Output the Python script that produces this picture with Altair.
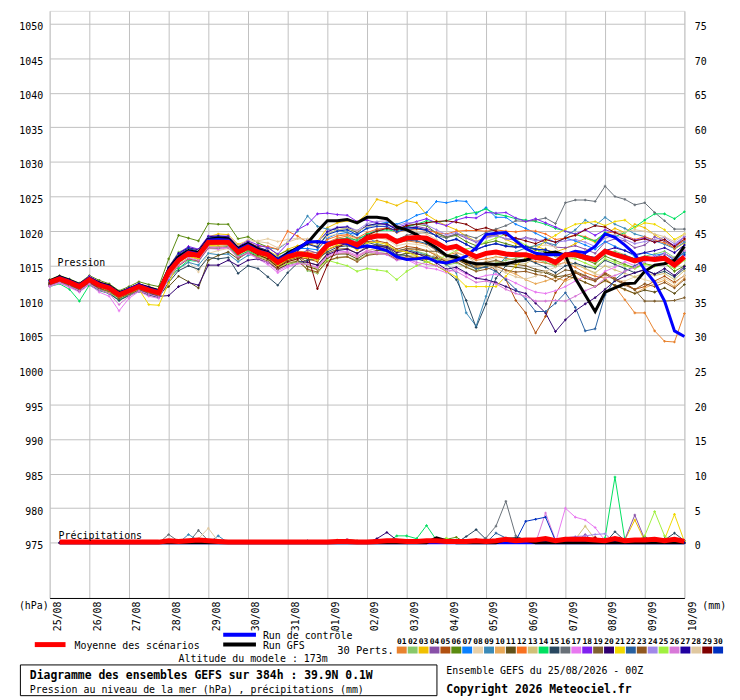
import altair as alt
import pandas as pd

FONT = "DejaVu Sans Mono"

DATES = ["25/08", "26/08", "27/08", "28/08", "29/08", "30/08", "31/08", "01/09",
         "02/09", "03/09", "04/09", "05/09", "06/09", "07/09", "08/09", "09/09", "10/09"]
STEP_H = 6
MEMBERS = ["%02d" % i for i in range(1, 31)]
COLORS = ["#E8822E", "#88C86A", "#F0C000", "#8850A8", "#B05010", "#5A8A10", "#0A80FF", "#E8D0A8",
          "#3A8AB8", "#E8A858", "#605018", "#F87020", "#D0C078", "#00E060", "#284860", "#687078",
          "#E878F0", "#8020F0", "#806030", "#300070", "#F0D800", "#2860A0", "#905820", "#A088E8",
          "#A0F040", "#D878D8", "#2000A0", "#E0C8A0", "#800000", "#0030C0"]

# Sea-level pressure (hPa), every 6 h from 0 to 384 h
P01 = [1012.2, 1012.9, 1012.3, 1011.7, 1012.8, 1012.0, 1011.5, 1010.4, 1011.2, 1011.8, 1011.3, 1010.9, 1013.5,
       1015.4, 1016.5, 1016.3, 1018.0, 1018.2, 1018.0, 1016.8, 1017.4, 1016.9, 1016.8, 1015.9, 1016.6, 1017.1,
       1017.0, 1016.9, 1018.4, 1019.0, 1019.3, 1018.6, 1019.5, 1019.6, 1019.2, 1018.3, 1018.6, 1018.4, 1018.1,
       1017.2, 1016.5, 1016.9, 1016.4, 1015.8, 1016.0, 1016.3, 1016.1, 1015.8, 1015.9, 1015.6, 1015.4, 1015.1,
       1015.5, 1014.8, 1014.0, 1013.5, 1013.2, 1012.0, 1010.1, 1008.2, 1008.2, 1005.6, 1004.1, 1004.0, 1008.1]
P02 = [1012.3, 1012.7, 1012.1, 1011.4, 1012.5, 1011.6, 1011.2, 1010.1, 1010.8, 1011.5, 1011.0, 1010.7, 1014.8,
       1017.0, 1017.6, 1017.2, 1019.0, 1019.2, 1018.8, 1017.3, 1017.9, 1016.8, 1016.2, 1015.0, 1015.6, 1016.0,
       1014.3, 1013.9, 1015.7, 1016.1, 1016.3, 1015.8, 1016.6, 1016.9, 1017.1, 1016.3, 1016.9, 1017.1, 1016.7,
       1015.9, 1015.1, 1015.4, 1014.8, 1014.3, 1015.0, 1015.4, 1015.8, 1016.1, 1016.4, 1016.0, 1015.5, 1014.9,
       1016.4, 1016.7, 1016.2, 1015.6, 1016.8, 1017.1, 1016.6, 1016.0, 1016.4, 1016.7, 1017.1, 1016.2, 1016.8]
P03 = [1012.9, 1013.5, 1013.0, 1012.4, 1013.4, 1012.7, 1012.3, 1011.2, 1011.8, 1012.4, 1012.0, 1011.6, 1014.7,
       1016.5, 1017.5, 1017.3, 1019.2, 1019.6, 1019.5, 1018.1, 1018.6, 1017.6, 1017.2, 1016.4, 1017.4, 1017.9,
       1018.0, 1018.5, 1020.5, 1021.2, 1021.5, 1021.3, 1022.5, 1024.6, 1024.2, 1023.7, 1024.4, 1024.1, 1022.4,
       1021.5, 1020.8, 1020.2, 1019.3, 1018.5, 1019.2, 1019.5, 1018.8, 1018.2, 1017.6, 1017.9, 1017.3, 1017.0,
       1017.5, 1018.2, 1019.0, 1018.4, 1019.6, 1020.4, 1019.8, 1021.0, 1020.5, 1019.5, 1018.7, 1017.4, 1018.3]
P04 = [1012.8, 1013.2, 1012.8, 1012.2, 1013.2, 1012.5, 1012.1, 1011.1, 1011.6, 1012.2, 1011.8, 1011.4, 1014.5,
       1016.4, 1017.2, 1016.9, 1018.8, 1018.6, 1018.7, 1017.3, 1018.0, 1017.2, 1016.5, 1015.3, 1016.0, 1016.4,
       1017.3, 1016.8, 1018.3, 1018.8, 1019.0, 1018.4, 1019.5, 1020.2, 1020.5, 1019.8, 1020.4, 1020.7, 1020.4,
       1019.8, 1019.2, 1019.6, 1019.0, 1018.4, 1019.1, 1019.4, 1018.9, 1018.7, 1019.1, 1018.8, 1018.4, 1017.7,
       1017.6, 1017.9, 1017.4, 1016.8, 1018.4, 1018.9, 1018.6, 1017.6, 1018.0, 1019.2, 1018.5, 1017.8, 1018.6]
P05 = [1012.4, 1012.9, 1012.5, 1011.9, 1012.7, 1011.9, 1011.5, 1010.6, 1011.1, 1011.7, 1011.4, 1011.0, 1013.8,
       1015.5, 1016.4, 1016.0, 1017.9, 1017.8, 1017.9, 1016.6, 1017.3, 1016.5, 1016.0, 1014.9, 1015.8, 1016.2,
       1016.0, 1015.6, 1017.3, 1017.9, 1018.1, 1017.4, 1018.5, 1018.6, 1018.3, 1017.4, 1017.8, 1017.6, 1017.2,
       1016.5, 1015.6, 1016.0, 1015.4, 1014.8, 1015.5, 1014.3, 1013.0, 1010.0, 1008.2, 1005.3, 1007.7, 1011.1,
       1013.0, 1014.0, 1013.5, 1012.8, 1014.0, 1013.2, 1012.5, 1011.6, 1012.0, 1012.8, 1013.5, 1012.6, 1013.6]
P06 = [1013.0, 1013.6, 1013.1, 1012.5, 1013.6, 1012.9, 1012.4, 1011.4, 1012.0, 1012.7, 1012.3, 1012.0, 1016.0,
       1019.4, 1019.0, 1018.6, 1021.1, 1021.0, 1021.0, 1018.9, 1019.2, 1018.3, 1017.7, 1016.6, 1017.2, 1017.5,
       1018.2, 1017.8, 1019.6, 1020.2, 1020.4, 1019.8, 1020.8, 1021.0, 1021.1, 1020.3, 1020.8, 1021.0, 1020.8,
       1019.7, 1019.1, 1019.4, 1018.5, 1017.9, 1018.3, 1018.6, 1018.2, 1017.8, 1017.7, 1017.3, 1017.0, 1016.4,
       1016.6, 1016.3, 1015.9, 1015.3, 1016.4, 1015.8, 1015.2, 1014.7, 1015.3, 1015.0, 1015.4, 1014.2, 1015.0]
P07 = [1012.7, 1013.3, 1012.8, 1012.1, 1013.1, 1012.3, 1011.9, 1010.9, 1011.5, 1012.1, 1011.6, 1011.2, 1014.4,
       1016.2, 1017.1, 1016.8, 1018.6, 1018.5, 1018.5, 1017.2, 1017.9, 1017.4, 1017.1, 1016.2, 1017.0, 1017.5,
       1017.5, 1017.3, 1019.0, 1019.6, 1019.8, 1019.5, 1020.5, 1021.0, 1021.3, 1021.0, 1021.5, 1022.3, 1022.7,
       1024.3, 1024.1, 1024.4, 1024.3, 1022.5, 1023.4, 1022.0, 1022.0, 1021.0, 1020.4, 1019.7, 1019.0, 1018.4,
       1019.0, 1018.6, 1018.0, 1017.4, 1018.5, 1017.8, 1017.2, 1016.4, 1016.9, 1016.5, 1016.8, 1015.8, 1016.9]
P08 = [1012.5, 1013.0, 1012.6, 1012.0, 1012.9, 1012.1, 1011.6, 1010.6, 1011.3, 1011.9, 1011.5, 1011.1, 1013.2,
       1014.5, 1015.6, 1014.1, 1016.8, 1017.2, 1017.5, 1016.8, 1018.3, 1018.6, 1018.9, 1018.5, 1018.8, 1019.0,
       1018.6, 1018.1, 1019.2, 1019.6, 1019.4, 1018.8, 1019.3, 1019.1, 1018.8, 1017.9, 1018.2, 1018.1, 1017.8,
       1016.6, 1015.9, 1016.3, 1015.8, 1015.0, 1015.7, 1016.2, 1016.6, 1017.0, 1017.5, 1017.8, 1018.0, 1017.7,
       1015.8, 1015.2, 1014.6, 1013.8, 1013.5, 1013.0, 1012.8, 1013.4, 1013.0, 1012.6, 1013.2, 1012.4, 1013.6]
P09 = [1012.3, 1012.7, 1012.2, 1011.6, 1012.6, 1011.8, 1011.4, 1010.3, 1011.0, 1011.6, 1011.2, 1010.8, 1013.0,
       1014.6, 1015.5, 1015.1, 1016.8, 1016.6, 1016.7, 1015.6, 1016.5, 1016.8, 1017.6, 1017.4, 1018.4, 1020.0,
       1022.2, 1020.7, 1020.3, 1020.2, 1019.8, 1019.0, 1019.3, 1018.2, 1017.8, 1017.2, 1017.4, 1017.0, 1016.5,
       1016.0, 1015.2, 1014.0, 1008.2, 1006.3, 1010.6, 1014.9, 1016.2, 1017.0, 1017.6, 1017.9, 1018.4, 1018.0,
       1019.2, 1020.2, 1021.6, 1020.8, 1022.0, 1021.0, 1020.4, 1019.6, 1019.2, 1018.6, 1018.1, 1017.5, 1018.4]
P10 = [1012.9, 1013.4, 1012.9, 1012.3, 1013.3, 1012.5, 1012.0, 1011.0, 1011.6, 1012.3, 1011.8, 1011.3, 1014.3,
       1016.0, 1016.9, 1016.7, 1018.5, 1018.7, 1018.8, 1017.4, 1018.0, 1017.1, 1016.3, 1015.2, 1016.1, 1016.5,
       1014.9, 1014.4, 1016.2, 1016.7, 1016.9, 1016.3, 1017.2, 1017.5, 1017.6, 1017.0, 1017.4, 1017.3, 1017.2,
       1016.6, 1015.7, 1016.0, 1015.3, 1014.7, 1015.3, 1015.2, 1014.3, 1013.8, 1013.0, 1012.4, 1012.8, 1013.3,
       1012.8, 1013.4, 1012.6, 1012.0, 1012.8, 1012.2, 1011.5, 1011.0, 1011.8, 1012.4, 1012.9, 1012.0, 1013.2]
P11 = [1012.4, 1012.8, 1012.3, 1011.8, 1012.6, 1011.9, 1011.4, 1010.5, 1011.2, 1011.7, 1011.2, 1010.9, 1012.0,
       1013.5, 1012.7, 1011.8, 1015.8, 1016.5, 1017.0, 1016.0, 1016.9, 1016.4, 1016.0, 1015.0, 1015.8, 1016.3,
       1014.9, 1014.5, 1016.1, 1016.7, 1016.7, 1016.0, 1016.9, 1017.2, 1017.3, 1016.5, 1016.8, 1016.7, 1016.5,
       1016.2, 1015.6, 1015.9, 1015.2, 1014.6, 1014.9, 1015.2, 1015.0, 1014.8, 1014.6, 1014.2, 1014.0, 1013.4,
       1013.6, 1013.2, 1012.6, 1012.0, 1012.9, 1012.2, 1011.6, 1011.0, 1011.5, 1011.2, 1011.8, 1011.0, 1012.3]
P12 = [1012.8, 1013.3, 1012.7, 1012.1, 1013.2, 1012.4, 1012.0, 1011.0, 1011.6, 1012.1, 1011.7, 1011.3, 1014.2,
       1016.0, 1017.0, 1016.8, 1018.7, 1018.8, 1018.7, 1017.5, 1018.3, 1017.8, 1017.8, 1017.4, 1020.0, 1019.3,
       1018.4, 1017.6, 1018.8, 1019.3, 1019.5, 1019.0, 1019.8, 1020.3, 1020.4, 1019.8, 1020.2, 1020.3, 1020.1,
       1019.8, 1019.6, 1020.0, 1020.1, 1020.1, 1020.0, 1020.2, 1020.0, 1019.9, 1020.1, 1020.0, 1019.6, 1018.8,
       1019.0, 1019.5, 1019.2, 1018.6, 1019.7, 1019.9, 1019.4, 1018.8, 1019.2, 1018.7, 1018.3, 1017.6, 1018.8]
P13 = [1012.3, 1012.8, 1012.4, 1011.8, 1012.7, 1011.9, 1011.5, 1010.5, 1011.1, 1011.7, 1011.2, 1010.8, 1013.6,
       1015.2, 1016.2, 1016.0, 1017.8, 1017.8, 1017.9, 1016.5, 1017.2, 1016.4, 1015.9, 1014.7, 1015.4, 1015.8,
       1014.5, 1014.0, 1015.7, 1016.2, 1016.3, 1015.7, 1016.6, 1016.9, 1016.8, 1016.1, 1016.5, 1016.4, 1016.1,
       1016.6, 1015.9, 1016.2, 1015.6, 1014.9, 1015.4, 1015.7, 1015.3, 1015.2, 1015.3, 1016.2, 1017.5, 1016.3,
       1015.8, 1015.2, 1014.6, 1014.0, 1015.0, 1014.4, 1013.9, 1013.4, 1014.0, 1013.6, 1013.9, 1013.0, 1014.3]
P14 = [1012.0, 1012.4, 1011.6, 1009.9, 1012.2, 1011.4, 1011.0, 1010.0, 1010.8, 1011.3, 1010.8, 1010.4, 1013.4,
       1014.6, 1015.8, 1015.6, 1017.6, 1017.5, 1017.8, 1016.4, 1017.1, 1016.5, 1016.2, 1015.3, 1016.1, 1016.6,
       1016.7, 1016.5, 1018.1, 1018.8, 1019.0, 1018.7, 1019.6, 1020.0, 1020.2, 1020.0, 1020.6, 1021.0, 1021.5,
       1021.3, 1021.5, 1022.0, 1022.5, 1022.7, 1023.2, 1022.5, 1022.2, 1021.8, 1021.6, 1021.4, 1021.0, 1020.4,
       1020.0, 1019.6, 1019.0, 1018.6, 1019.8, 1019.2, 1019.8, 1020.6, 1021.6, 1022.5, 1022.5, 1021.8, 1022.8]
P15 = [1012.1, 1012.6, 1012.0, 1011.3, 1012.3, 1011.5, 1011.0, 1010.0, 1010.7, 1011.3, 1010.8, 1010.4, 1012.6,
       1014.3, 1015.0, 1014.5, 1016.2, 1016.0, 1016.2, 1013.9, 1015.0, 1014.6, 1013.4, 1012.2, 1014.0, 1015.4,
       1015.8, 1016.0, 1017.0, 1017.7, 1017.9, 1017.5, 1018.4, 1018.0, 1017.6, 1016.6, 1016.5, 1016.0, 1015.6,
       1015.0, 1014.2, 1013.0, 1010.0, 1006.1, 1009.5, 1013.2, 1015.0, 1015.8, 1016.0, 1015.4, 1014.8, 1014.0,
       1015.0, 1015.4, 1014.9, 1014.6, 1015.8, 1015.2, 1014.6, 1014.0, 1014.5, 1013.8, 1014.2, 1013.4, 1014.6]
P16 = [1012.6, 1013.2, 1012.7, 1012.1, 1013.1, 1012.3, 1011.9, 1010.9, 1011.5, 1012.1, 1011.6, 1011.2, 1014.0,
       1015.7, 1016.7, 1016.4, 1018.2, 1018.3, 1018.3, 1016.9, 1017.6, 1016.9, 1016.4, 1015.3, 1016.1, 1016.5,
       1016.4, 1016.0, 1017.7, 1018.3, 1018.4, 1017.8, 1018.9, 1019.3, 1019.4, 1018.8, 1019.4, 1019.7, 1019.8,
       1019.4, 1019.0, 1019.6, 1019.4, 1019.0, 1019.8, 1020.3, 1020.8, 1021.5, 1021.4, 1021.6, 1021.9, 1021.1,
       1024.1, 1024.5, 1024.5, 1024.3, 1026.5, 1025.0, 1024.6, 1023.8, 1024.1, 1022.7, 1021.5, 1020.3, 1020.3]
P17 = [1012.0, 1012.5, 1011.9, 1011.2, 1012.3, 1011.2, 1010.6, 1008.5, 1010.3, 1011.3, 1010.6, 1010.3, 1013.2,
       1015.0, 1016.0, 1015.6, 1017.5, 1017.4, 1017.6, 1016.2, 1016.8, 1016.0, 1015.2, 1014.0, 1014.8, 1015.3,
       1015.2, 1014.8, 1016.5, 1017.0, 1017.1, 1016.5, 1017.2, 1017.0, 1016.7, 1016.0, 1015.9, 1015.2, 1014.7,
       1014.5, 1014.0, 1014.6, 1013.8, 1013.2, 1013.6, 1013.8, 1013.2, 1012.5, 1011.8, 1011.2, 1011.0, 1011.4,
       1012.0, 1012.8, 1013.5, 1013.0, 1014.2, 1014.8, 1015.6, 1015.0, 1015.9, 1016.4, 1016.0, 1015.2, 1016.4]
P18 = [1012.9, 1013.5, 1013.0, 1012.4, 1013.5, 1012.7, 1012.2, 1011.2, 1011.8, 1012.4, 1012.0, 1011.5, 1014.8,
       1016.8, 1017.8, 1017.4, 1019.3, 1019.3, 1019.3, 1017.9, 1018.6, 1018.0, 1017.6, 1016.7, 1018.2, 1020.2,
       1021.0, 1022.5, 1022.6, 1022.4, 1022.3, 1021.4, 1021.6, 1021.2, 1020.9, 1020.5, 1021.0, 1021.4, 1021.8,
       1021.2, 1020.8, 1021.6, 1022.0, 1021.9, 1022.7, 1022.6, 1022.7, 1021.9, 1021.4, 1021.8, 1021.2, 1020.6,
       1020.0, 1019.6, 1020.2, 1019.4, 1020.2, 1019.8, 1019.2, 1018.7, 1019.0, 1018.4, 1018.8, 1017.9, 1019.2]
P19 = [1012.5, 1013.0, 1012.5, 1011.9, 1012.9, 1012.1, 1011.7, 1010.7, 1011.3, 1011.9, 1011.4, 1011.0, 1013.9,
       1015.6, 1016.6, 1016.3, 1018.1, 1018.1, 1018.2, 1016.7, 1017.4, 1016.7, 1016.3, 1015.2, 1016.0, 1016.4,
       1015.5, 1015.1, 1016.8, 1017.4, 1017.5, 1016.8, 1017.8, 1018.0, 1017.9, 1017.1, 1017.5, 1017.4, 1017.1,
       1017.1, 1016.3, 1016.6, 1015.8, 1015.0, 1015.5, 1015.8, 1015.4, 1015.2, 1015.0, 1014.5, 1014.2, 1013.6,
       1014.4, 1014.2, 1013.6, 1013.0, 1013.8, 1013.0, 1012.4, 1011.5, 1009.9, 1009.9, 1009.9, 1010.0, 1010.4]
P20 = [1012.3, 1012.8, 1012.3, 1011.7, 1012.6, 1011.8, 1011.3, 1010.4, 1011.0, 1011.5, 1011.0, 1010.6, 1010.7,
       1012.0, 1012.6, 1012.2, 1015.1, 1015.1, 1015.8, 1015.0, 1015.8, 1016.0, 1015.5, 1014.5, 1015.2, 1015.6,
       1015.5, 1015.1, 1016.6, 1017.2, 1017.4, 1016.8, 1017.6, 1017.8, 1017.7, 1016.9, 1017.2, 1016.8, 1016.2,
       1015.4, 1014.5, 1014.8, 1014.0, 1013.2, 1013.0, 1012.6, 1012.0, 1011.4, 1011.0, 1009.6, 1008.2, 1005.5,
       1007.2, 1008.5, 1009.5, 1010.4, 1011.6, 1012.8, 1013.5, 1014.0, 1014.4, 1013.8, 1014.6, 1013.6, 1014.9]
P21 = [1012.7, 1013.1, 1012.6, 1012.0, 1013.0, 1012.0, 1011.2, 1010.4, 1010.9, 1011.6, 1009.4, 1009.3, 1012.5,
       1015.5, 1016.4, 1016.0, 1017.9, 1018.0, 1018.2, 1016.8, 1017.4, 1016.6, 1016.2, 1015.0, 1015.9, 1016.3,
       1016.2, 1015.8, 1017.4, 1018.0, 1018.1, 1017.3, 1018.3, 1018.4, 1018.1, 1017.2, 1017.0, 1016.4, 1015.6,
       1015.0, 1014.2, 1013.4, 1012.0, 1012.0, 1012.0, 1012.0, 1013.5, 1015.0, 1016.2, 1017.3, 1018.6, 1019.4,
       1020.3, 1021.0, 1021.2, 1021.4, 1020.8, 1021.4, 1021.6, 1020.5, 1021.2, 1021.0, 1020.2, 1018.8, 1019.6]
P22 = [1012.6, 1013.0, 1012.5, 1011.9, 1012.9, 1012.2, 1011.8, 1010.9, 1011.5, 1012.0, 1011.6, 1011.2, 1014.2,
       1015.9, 1016.9, 1016.6, 1018.5, 1018.5, 1018.6, 1017.2, 1017.8, 1017.1, 1016.7, 1015.6, 1016.4, 1016.8,
       1016.7, 1016.3, 1018.0, 1018.5, 1018.6, 1018.0, 1018.9, 1019.2, 1019.2, 1018.3, 1018.7, 1018.6, 1018.2,
       1017.3, 1016.4, 1016.5, 1015.6, 1014.6, 1014.8, 1014.2, 1013.0, 1011.6, 1010.2, 1008.4, 1008.4, 1009.6,
       1011.1, 1009.0, 1005.6, 1005.9, 1010.8, 1013.0, 1014.2, 1015.0, 1015.8, 1016.2, 1016.8, 1016.0, 1017.0]
P23 = [1012.2, 1012.7, 1012.2, 1011.5, 1012.5, 1011.7, 1011.3, 1010.3, 1010.9, 1011.5, 1011.1, 1010.7, 1013.4,
       1015.0, 1016.0, 1015.7, 1017.6, 1017.6, 1017.7, 1016.2, 1016.9, 1016.2, 1015.7, 1014.5, 1015.3, 1015.7,
       1014.5, 1014.1, 1015.7, 1016.2, 1016.3, 1015.6, 1016.5, 1016.7, 1016.7, 1015.9, 1016.3, 1016.2, 1015.9,
       1016.1, 1015.3, 1015.6, 1014.8, 1014.2, 1014.5, 1014.9, 1014.4, 1014.1, 1014.2, 1013.8, 1013.5, 1012.8,
       1013.6, 1014.0, 1013.2, 1012.8, 1013.8, 1013.0, 1012.2, 1011.6, 1012.4, 1012.0, 1012.6, 1011.8, 1013.0]
P24 = [1012.8, 1013.4, 1012.9, 1012.3, 1013.3, 1012.5, 1012.1, 1011.1, 1011.7, 1012.3, 1011.8, 1011.4, 1014.6,
       1016.6, 1017.4, 1017.1, 1019.0, 1019.1, 1019.0, 1017.6, 1018.2, 1017.5, 1017.0, 1016.0, 1016.8, 1017.3,
       1018.8, 1018.4, 1020.0, 1020.6, 1020.7, 1020.1, 1021.1, 1021.4, 1021.5, 1020.8, 1021.2, 1021.2, 1020.9,
       1020.2, 1019.5, 1019.8, 1019.1, 1018.5, 1019.0, 1019.3, 1018.9, 1018.9, 1019.0, 1018.6, 1018.8, 1018.4,
       1018.6, 1018.8, 1018.4, 1017.8, 1019.0, 1019.4, 1018.8, 1018.2, 1018.5, 1018.8, 1019.1, 1018.2, 1019.2]
P25 = [1012.5, 1012.9, 1012.4, 1011.8, 1012.8, 1012.0, 1011.6, 1010.6, 1011.2, 1011.8, 1011.3, 1010.9, 1014.0,
       1016.0, 1017.0, 1016.6, 1018.5, 1018.5, 1018.4, 1016.9, 1017.4, 1016.5, 1015.9, 1014.8, 1015.3, 1015.5,
       1015.2, 1014.6, 1015.8, 1015.4, 1015.0, 1014.2, 1014.6, 1014.4, 1014.2, 1013.0, 1014.2, 1015.0, 1015.6,
       1015.8, 1016.5, 1017.2, 1017.4, 1017.8, 1018.5, 1019.0, 1019.6, 1018.8, 1018.0, 1017.4, 1016.4, 1015.8,
       1016.2, 1016.0, 1015.4, 1014.8, 1016.0, 1015.5, 1015.0, 1014.6, 1015.2, 1014.9, 1015.3, 1014.6, 1015.8]
P26 = [1012.1, 1012.6, 1012.0, 1011.4, 1012.4, 1011.5, 1011.0, 1009.4, 1010.6, 1011.4, 1010.9, 1010.5, 1013.3,
       1015.1, 1016.1, 1015.8, 1017.7, 1017.6, 1017.7, 1016.3, 1016.9, 1016.1, 1015.5, 1014.3, 1015.0, 1015.4,
       1015.2, 1014.7, 1016.3, 1016.8, 1016.9, 1016.3, 1017.0, 1016.8, 1016.6, 1015.8, 1016.0, 1015.5, 1015.2,
       1015.0, 1014.4, 1014.2, 1013.4, 1012.6, 1012.8, 1012.4, 1011.6, 1011.0, 1010.6, 1009.9, 1009.9, 1010.0,
       1009.9, 1010.6, 1011.4, 1012.0, 1013.2, 1013.6, 1014.2, 1014.8, 1015.6, 1016.0, 1016.8, 1016.0, 1017.2]
P27 = [1012.9, 1013.5, 1013.0, 1012.3, 1013.3, 1012.6, 1012.2, 1011.2, 1011.8, 1012.4, 1011.9, 1011.5, 1014.8,
       1016.8, 1017.6, 1017.3, 1019.2, 1019.3, 1019.2, 1017.8, 1018.4, 1017.7, 1017.2, 1016.1, 1016.9, 1017.4,
       1018.7, 1018.3, 1019.9, 1020.5, 1020.6, 1019.9, 1020.8, 1021.1, 1021.0, 1020.2, 1020.6, 1020.5, 1020.2,
       1019.3, 1018.5, 1018.8, 1018.1, 1017.3, 1017.9, 1018.2, 1017.8, 1017.7, 1017.8, 1017.4, 1017.3, 1016.8,
       1016.4, 1016.8, 1016.5, 1016.0, 1017.2, 1017.6, 1017.2, 1016.6, 1016.9, 1017.2, 1017.6, 1016.9, 1018.0]
P28 = [1012.7, 1013.2, 1012.7, 1012.1, 1013.1, 1012.3, 1011.9, 1010.9, 1011.5, 1012.1, 1011.6, 1011.2, 1014.0,
       1016.3, 1017.3, 1017.2, 1019.0, 1018.9, 1019.0, 1017.9, 1018.8, 1018.5, 1018.3, 1017.6, 1018.4, 1018.9,
       1018.9, 1018.5, 1019.6, 1020.2, 1020.4, 1020.0, 1020.6, 1020.8, 1020.6, 1019.9, 1020.2, 1020.0, 1019.6,
       1018.8, 1017.6, 1017.0, 1016.4, 1015.4, 1015.2, 1014.6, 1014.0, 1013.4, 1013.1, 1013.5, 1014.2, 1014.8,
       1015.6, 1016.4, 1017.2, 1017.8, 1019.2, 1019.6, 1019.9, 1020.2, 1020.0, 1019.6, 1019.2, 1018.5, 1019.5]
P29 = [1012.5, 1013.1, 1012.6, 1012.0, 1013.0, 1012.2, 1011.8, 1010.8, 1011.4, 1012.0, 1011.5, 1011.1, 1014.1,
       1015.8, 1016.8, 1016.4, 1018.3, 1018.3, 1018.2, 1016.8, 1017.4, 1016.6, 1016.0, 1014.8, 1015.6, 1016.0,
       1016.6, 1011.7, 1015.1, 1017.6, 1018.4, 1018.3, 1019.4, 1020.0, 1020.4, 1020.2, 1020.8, 1021.0, 1021.2,
       1021.4, 1021.5, 1021.3, 1021.0, 1020.2, 1020.5, 1020.0, 1019.4, 1019.0, 1018.6, 1018.2, 1018.8, 1018.4,
       1019.0, 1019.4, 1020.2, 1020.8, 1020.6, 1019.8, 1019.2, 1018.6, 1018.9, 1018.4, 1018.8, 1017.8, 1018.9]
P30 = [1012.8, 1013.3, 1012.8, 1012.2, 1013.2, 1012.4, 1012.0, 1011.0, 1011.6, 1012.2, 1011.7, 1011.3, 1014.6,
       1016.6, 1017.5, 1017.1, 1019.0, 1019.2, 1019.0, 1017.6, 1018.3, 1017.5, 1017.0, 1015.9, 1016.7, 1017.2,
       1018.1, 1017.7, 1019.5, 1020.0, 1020.2, 1019.5, 1020.4, 1020.7, 1020.7, 1019.9, 1020.3, 1020.4, 1020.1,
       1019.3, 1018.5, 1018.9, 1018.1, 1017.4, 1017.9, 1018.2, 1017.9, 1017.7, 1017.8, 1017.4, 1017.3, 1016.8,
       1016.8, 1016.9, 1016.5, 1016.2, 1017.3, 1016.8, 1016.5, 1016.0, 1016.3, 1016.1, 1016.4, 1015.6, 1016.6]
PERTS = [P01, P02, P03, P04, P05, P06, P07, P08, P09, P10, P11, P12, P13, P14, P15,
         P16, P17, P18, P19, P20, P21, P22, P23, P24, P25, P26, P27, P28, P29, P30]

CTRL = [1012.6, 1013.3, 1012.8, 1012.2, 1013.2, 1012.4, 1012.0, 1011.0, 1011.6, 1012.2, 1011.7, 1011.3, 1014.3,
        1016.0, 1017.0, 1016.7, 1018.7, 1018.8, 1018.7, 1017.3, 1018.0, 1017.2, 1016.8, 1015.8, 1016.6, 1017.5,
        1018.4, 1018.5, 1018.3, 1018.4, 1018.2, 1017.6, 1017.9, 1017.6, 1017.2, 1016.3, 1015.9, 1016.0, 1016.2,
        1015.6, 1015.4, 1015.8, 1016.4, 1017.6, 1019.5, 1019.7, 1019.8, 1018.6, 1017.5, 1016.8, 1016.6, 1016.6,
        1016.6, 1017.1, 1016.9, 1017.8, 1019.6, 1019.1, 1018.0, 1016.7, 1014.4, 1012.6, 1009.9, 1005.6, 1004.8]
GFS = [1012.8, 1013.4, 1012.9, 1012.3, 1013.2, 1012.5, 1012.1, 1011.1, 1011.6, 1012.2, 1011.8, 1011.4, 1014.5,
       1016.3, 1017.2, 1016.9, 1018.8, 1019.0, 1018.9, 1017.5, 1018.2, 1017.4, 1016.9, 1015.8, 1016.8, 1017.6,
       1018.3, 1020.0, 1021.5, 1021.5, 1021.7, 1021.2, 1022.0, 1022.0, 1021.8, 1020.6, 1020.2, 1019.5, 1018.5,
       1017.6, 1016.5, 1016.2, 1015.6, 1015.3, 1015.3, 1015.2, 1015.3, 1015.6, 1015.8, 1016.4, 1016.8, 1017.0,
       1016.5, 1013.2, 1010.8, 1008.4, 1011.2, 1011.8, 1012.4, 1012.5, 1014.2, 1015.1, 1015.3, 1015.8, 1017.8]
MEAN = [1012.6, 1013.1, 1012.6, 1012.0, 1013.0, 1012.2, 1011.8, 1010.8, 1011.4, 1012.0, 1011.5, 1011.1, 1014.1,
        1015.8, 1016.8, 1016.5, 1018.4, 1018.4, 1018.4, 1017.0, 1017.7, 1017.0, 1016.6, 1015.5, 1016.3, 1016.7,
        1016.6, 1016.3, 1018.0, 1018.5, 1018.6, 1018.0, 1019.0, 1019.3, 1019.3, 1018.5, 1019.0, 1019.1, 1019.0,
        1018.3, 1017.5, 1017.8, 1017.0, 1016.3, 1016.8, 1017.0, 1016.7, 1016.6, 1016.6, 1016.2, 1016.1, 1015.5,
        1016.6, 1016.6, 1016.2, 1015.9, 1017.1, 1016.6, 1016.2, 1015.7, 1016.1, 1015.9, 1016.1, 1015.1, 1016.3]

# Precipitation (mm per 6 h), steps 1..64 ; members: step -> mm, all other steps 0
PR_MEAN = [0.1, 0.1, 0.1, 0.1, 0.1, 0.1, 0.1, 0.1, 0.1, 0.1, 0.1,
           0.3, 0.2, 0.3, 0.4, 0.3,
           0.2, 0.1, 0.1, 0.1, 0.1, 0.1, 0.1, 0.1, 0.1, 0.1, 0.1, 0.1, 0.2, 0.2, 0.1, 0.1,
           0.2, 0.3, 0.3, 0.2, 0.2, 0.3, 0.3, 0.2, 0.2, 0.2, 0.3, 0.2, 0.3, 0.5, 0.3, 0.4,
           0.4, 0.6, 0.3, 0.5, 0.5, 0.5, 0.4, 0.3, 0.6, 0.3, 0.4, 0.4, 0.5, 0.3, 0.5, 0.2]
PR_CTRL = {}
PR_GFS = {39: 0.7, 40: 0.3, 46: 0.5, 47: 0.6, 48: 0.4}
PR_PERTS = {
    "01": {56: 0.5},
    "03": {58: 0.4, 59: 3.3, 60: 0.3},
    "04": {54: 1.2, 58: 0.5, 59: 4.0, 60: 0.5},
    "05": {29: 0.3, 30: 0.5, 31: 0.3},
    "06": {12: 0.3, 40: 0.5, 41: 0.8},
    "09": {14: 1.2, 15: 0.3, 17: 1.0},
    "12": {29: 0.4},
    "13": {53: 0.5, 54: 2.4, 55: 0.5},
    "14": {35: 1.0, 36: 1.0, 37: 0.6, 38: 2.5, 39: 0.4, 56: 0.7, 57: 9.5, 58: 0.4},
    "15": {42: 0.9, 43: 1.9, 44: 0.5, 57: 1.6, 58: 0.3, 60: 0.9, 62: 0.4, 63: 1.4, 64: 0.3},
    "16": {12: 1.2, 13: 0.2, 15: 1.8, 16: 0.3, 44: 0.7, 45: 2.4, 46: 6.0, 47: 1.0, 48: 0.3},
    "17": {52: 5.0, 53: 3.7, 54: 3.3, 55: 2.2, 56: 0.3},
    "19": {43: 0.5},
    "20": {33: 0.6, 34: 1.5, 35: 0.4, 62: 0.6},
    "21": {62: 0.5, 63: 4.1, 64: 0.2},
    "22": {26: 0.3, 45: 1.4, 46: 0.7},
    "24": {52: 0.7, 53: 0.9, 54: 1.0, 55: 1.2, 56: 1.3},
    "25": {15: 0.4, 40: 0.7, 60: 1.0, 61: 4.5, 62: 1.0},
    "26": {30: 0.5, 50: 4.3, 51: 0.4},
    "28": {14: 0.3, 15: 0.6, 16: 2.1, 17: 0.2},
    "29": {53: 0.7, 55: 0.8},
    "30": {47: 0.3, 48: 3.1, 49: 3.4, 50: 3.7, 51: 0.3},
}
N_STEPS = 64

# ---------------- data frames ----------------
press_rows = []
for m, arr in zip(MEMBERS, PERTS):
    for i, v in enumerate(arr):
        press_rows.append({"m": m, "h": i * STEP_H, "p": v})
df_press = pd.DataFrame(press_rows)
df_ctrl = pd.DataFrame({"h": [i * STEP_H for i in range(len(CTRL))], "p": CTRL})
df_gfs = pd.DataFrame({"h": [i * STEP_H for i in range(len(GFS))], "p": GFS})
df_mean = pd.DataFrame({"h": [i * STEP_H for i in range(len(MEAN))], "p": MEAN})

pr_rows = []
for m in MEMBERS:
    d = PR_PERTS.get(m, {})
    for i in range(1, N_STEPS + 1):
        pr_rows.append({"m": m, "h": i * STEP_H, "mm": d.get(i, 0.0)})
df_pr = pd.DataFrame(pr_rows)
df_pr_ctrl = pd.DataFrame({"h": [i * STEP_H for i in range(1, N_STEPS + 1)],
                           "mm": [PR_CTRL.get(i, 0.0) for i in range(1, N_STEPS + 1)]})
df_pr_gfs = pd.DataFrame({"h": [i * STEP_H for i in range(1, N_STEPS + 1)],
                          "mm": [PR_GFS.get(i, 0.0) for i in range(1, N_STEPS + 1)]})
df_pr_mean = pd.DataFrame({"h": [(i + 1) * STEP_H for i in range(len(PR_MEAN))], "mm": PR_MEAN})

# ---------------- scales / axes ----------------
W, H = 640, 592
GRID = "#C0C0C0"
label_expr = "[" + ",".join("'%s'" % d for d in DATES) + "][round(datum.value/24)]"

x_enc = alt.X("h:Q", scale=alt.Scale(domain=[0, 384], nice=False, zero=False),
              axis=alt.Axis(values=list(range(0, 385, 24)), labelExpr=label_expr, labelAngle=270,
                            labelAlign="right", labelBaseline="middle", labelOffset=8, labelPadding=3,
                            ticks=False, domain=True, domainColor="black", domainWidth=1,
                            grid=True, gridColor=GRID, gridWidth=1, title=None,
                            labelFont=FONT, labelFontSize=10, labelColor="black",
                            labelOverlap=False, labelFlush=False, labelBound=False))

y_p = alt.Y("p:Q", scale=alt.Scale(domain=[967.03, 1051.82], nice=False, zero=False),
            axis=alt.Axis(orient="left", values=list(range(975, 1051, 5)), format="d", grid=True,
                          gridColor=GRID, gridWidth=1, domain=False, ticks=False, labelPadding=7,
                          labelOffset=3, title=None, labelFont=FONT, labelFontSize=10, labelColor="black",
                          labelOverlap=False, labelFlush=False))
y_mm = alt.Y("mm:Q", scale=alt.Scale(domain=[-7.97, 76.82], nice=False, zero=False),
             axis=alt.Axis(orient="right", values=list(range(0, 76, 5)), format="d", grid=False,
                           domain=False, ticks=False, labelPadding=10, labelOffset=3, title=None,
                           labelFont=FONT, labelFontSize=10, labelColor="black",
                           labelOverlap=False, labelFlush=False))
col = alt.Color("m:N", scale=alt.Scale(domain=MEMBERS, range=COLORS), legend=None)
pt = alt.OverlayMarkDef(filled=True, size=7, shape="cross")

press_members = alt.Chart(df_press).mark_line(strokeWidth=1, point=pt).encode(x=x_enc, y=y_p, color=col)
press_gfs = alt.Chart(df_gfs).mark_line(color="#000000", strokeWidth=3).encode(x=x_enc, y=y_p)
press_ctrl = alt.Chart(df_ctrl).mark_line(color="#0000FF", strokeWidth=3).encode(x=x_enc, y=y_p)
press_mean = alt.Chart(df_mean).mark_line(color="#FF0000", strokeWidth=5).encode(x=x_enc, y=y_p)
press = alt.layer(press_members, press_gfs, press_ctrl, press_mean)

pr_members = alt.Chart(df_pr).mark_line(strokeWidth=1, point=pt).encode(x=x_enc, y=y_mm, color=col)
pr_ctrl = alt.Chart(df_pr_ctrl).mark_line(color="#0000FF", strokeWidth=3).encode(x=x_enc, y=y_mm)
pr_gfs = alt.Chart(df_pr_gfs).mark_line(color="#000000", strokeWidth=3).encode(x=x_enc, y=y_mm)
pr_mean = alt.Chart(df_pr_mean).mark_line(color="#FF0000", strokeWidth=5).encode(x=x_enc, y=y_mm)
precip = alt.layer(pr_members, pr_ctrl, pr_gfs, pr_mean)


# ---------------- annotations (page pixel coordinates -> plot coordinates) ----------------
OX, OY = 50, 8
TY = 1.5  # text glyphs sit a little below the em-box middle in the reference
ONE = pd.DataFrame({"t": [""]})


def txt(s, x, y, size=10, bold=False, align="left"):
    return alt.Chart(pd.DataFrame({"t": [s]})).mark_text(
        x=x - OX, y=y - OY + TY, align=align, baseline="middle", font=FONT, fontSize=size,
        fontWeight="bold" if bold else "normal", color="black").encode(text="t:N")


def hline(x1, x2, y, color, width):
    return alt.Chart(ONE).mark_rule(color=color, strokeWidth=width).encode(
        x=alt.value(x1 - OX), x2=alt.value(x2 - OX), y=alt.value(y - OY))


def box(x1, x2, y1, y2, fill=None, stroke=None):
    kw = {}
    if fill is not None:
        kw["fill"] = fill
    else:
        kw["fillOpacity"] = 0
    if stroke is not None:
        kw["stroke"] = stroke
        kw["strokeWidth"] = 1
    return alt.Chart(ONE).mark_rect(**kw).encode(
        x=alt.value(x1 - OX), x2=alt.value(x2 - OX), y=alt.value(y1 - OY), y2=alt.value(y2 - OY))


annots = [
    txt("Pression", 58, 261),
    txt("Précipitations", 59, 536),
    txt("(hPa)", 19, 607),
    txt("(mm)", 708, 607),
    hline(225, 258, 637, "#0000FF", 4),
    txt("Run de contrôle", 265, 637),
    hline(35, 66, 647, "#FF0000", 5),
    txt("Moyenne des scénarios", 75, 647),
    hline(225, 258, 647, "#000000", 4),
    txt("Run GFS", 265, 647),
    txt("30 Perts.", 340, 652, size=10.5),
    txt("Altitude du modele : 173m", 180, 660),
    box(20.5, 440.5, 667.5, 698.5, stroke="black"),
    txt("Diagramme des ensembles GEFS sur 384h : 39.9N 0.1W", 30, 677, size=11.5, bold=True),
    txt("Pression au niveau de la mer (hPa) , précipitations (mm)", 30, 691.5),
    txt("Ensemble GEFS du 25/08/2026 - 00Z", 450, 672),
    txt("Copyright 2026 Meteociel.fr", 450, 691, size=11.5, bold=True),
]
for k, (m, c) in enumerate(zip(MEMBERS, COLORS)):
    x0 = 400 + 11 * k
    annots.append(box(x0, x0 + 10, 649, 656, fill=c))
    annots.append(txt(m, x0 + 5, 642.5, size=8, bold=True, align="center"))

chart = alt.layer(press, precip, *annots).resolve_scale(y="independent").properties(
    width=W, height=H,
    padding={"left": 42, "top": 0, "right": 48, "bottom": 100},
    autosize=alt.AutoSizeParams(type="none"),
).configure_view(strokeWidth=0).configure(background="white")

chart.save("out.html", embed_options={"renderer": "svg", "actions": False})
